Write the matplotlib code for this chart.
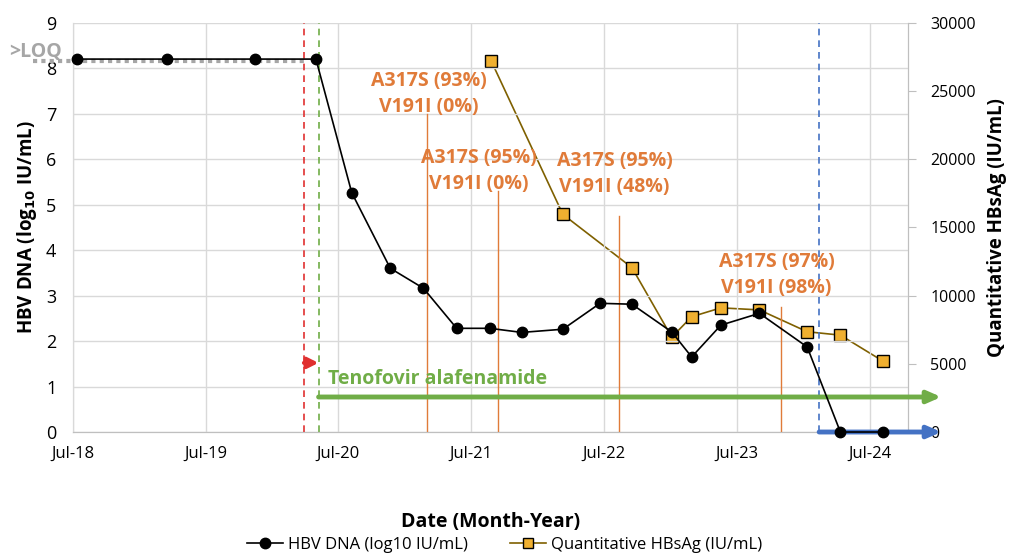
import matplotlib
matplotlib.use("Agg")
import matplotlib.pyplot as plt
from matplotlib.lines import Line2D

plt.rcParams["font.family"] = ["Open Sans", "DejaVu Sans"]

# ---------------------------------------------------------------------------
# data (dates as decimal years)
# ---------------------------------------------------------------------------
dna_dates = [2018.53, 2019.21, 2019.87, 2020.33, 2020.60, 2020.89, 2021.14,
             2021.39, 2021.64, 2021.88, 2022.19, 2022.47, 2022.71, 2023.01,
             2023.16, 2023.38, 2023.67, 2024.03, 2024.28, 2024.60]
dna_values = [8.2, 8.2, 8.2, 8.2, 5.26, 3.6, 3.16,
              2.28, 2.28, 2.19, 2.26, 2.83, 2.81, 2.2,
              1.65, 2.35, 2.61, 1.87, 0.0, 0.0]

hbsag_dates = [2021.65, 2022.19, 2022.71, 2023.01, 2023.16, 2023.38,
               2023.67, 2024.03, 2024.28, 2024.60]
hbsag_values = [27200, 15950, 12050, 6950, 8450, 9100,
                8950, 7350, 7100, 5200]

seq_dates = [2021.17, 2021.70, 2022.61, 2023.83]
seq_tops = [7.0, 5.3, 4.75, 2.75]
seq_labels = ["A317S (93%)\nV191I (0%)", "A317S (95%)\nV191I (0%)",
              "A317S (95%)\nV191I (48%)", "A317S (97%)\nV191I (98%)"]
seq_label_x = [2021.18, 2021.56, 2022.58, 2023.80]
seq_label_y = [7.44, 5.74, 5.67, 3.45]

tick_years = [2018.5, 2019.5, 2020.5, 2021.5, 2022.5, 2023.5, 2024.5]
tick_labels = ["Jul-18", "Jul-19", "Jul-20", "Jul-21", "Jul-22", "Jul-23", "Jul-24"]

loq_value = 8.15
red_line, green_line, blue_line = 2020.24, 2020.35, 2024.12
x_end = 2025.04

orange = "#E07B39"
fig = plt.figure(figsize=(10.09, 5.55), dpi=100)
ax = fig.add_axes([0.0723, 0.2216, 0.8277, 0.7375])
ax2 = ax.twinx()

ax.set_xlim(2018.5, 2024.79)
ax.set_ylim(0, 9)
ax2.set_ylim(0, 30000)

ax.set_xticks(tick_years)
ax.set_xticklabels(tick_labels, fontsize=12)
ax.set_yticks(range(10))
ax.tick_params(axis="y", labelsize=13, length=0, pad=12)
ax.tick_params(axis="x", length=0, pad=10)
ax2.set_yticks(range(0, 30001, 5000))
ax2.tick_params(axis="y", labelsize=11.5, length=6, color="#bfbfbf", pad=10)
ax.grid(True, color="#d9d9d9", lw=1)
ax.set_axisbelow(True)
for a in (ax, ax2):
    a.spines["top"].set_visible(False)
    a.spines["left"].set_color("#d9d9d9")
    a.spines["right"].set_color("#bfbfbf")
    a.spines["bottom"].set_color("#bfbfbf")

# sequencing time points
for xd, top, lab, lx, ly in zip(seq_dates, seq_tops, seq_labels, seq_label_x, seq_label_y):
    ax.plot([xd, xd], [0, top], color=orange, lw=1, zorder=2)
    ax.text(lx, ly, lab, color=orange, fontsize=14, fontweight="bold",
            ha="center", va="center", linespacing=1.4, zorder=3)

# treatment lines
ax.axvline(red_line, color="#E03030", ls=(0, (4, 3)), lw=1.2)
ax.axvline(green_line, color="#70AD47", ls=(0, (4, 3)), lw=1.2)
ax.axvline(blue_line, color="#4472C4", ls=(0, (4, 3)), lw=1.2)
ax.annotate("", xy=(green_line, 1.52), xytext=(red_line, 1.52),
            arrowprops=dict(arrowstyle="-|>,head_length=0.6,head_width=0.3",
                            color="#E03030", lw=3, shrinkA=0, shrinkB=0))
ax.annotate("", xy=(x_end, 0.77), xytext=(green_line, 0.77), annotation_clip=False,
            arrowprops=dict(arrowstyle="-|>,head_length=0.8,head_width=0.35",
                            color="#70AD47", lw=3.5, shrinkA=0, shrinkB=0))
ax.annotate("", xy=(x_end, 0.0), xytext=(blue_line, 0.0), annotation_clip=False,
            arrowprops=dict(arrowstyle="-|>,head_length=0.8,head_width=0.35",
                            color="#4472C4", lw=3.5, shrinkA=0, shrinkB=0))
ax.text(green_line + 0.07, 1.17, "Tenofovir alafenamide", color="#70AD47",
        fontsize=14, fontweight="bold", va="center")

# >LOQ marker
ax.plot([2018.2, red_line], [loq_value, loq_value], color="#a6a6a6",
        ls=(0, (1, 1)), lw=3, clip_on=False, zorder=3)
ax.text(2018.42, 8.35, ">LOQ", color="#a6a6a6", fontsize=14, fontweight="bold",
        ha="right", va="center")

# series
ax.plot(dna_dates, dna_values, color="black", lw=1.2, marker="o", ms=7.5,
        zorder=5, clip_on=False)
ax2.plot(hbsag_dates, hbsag_values, color="#7F6000", lw=1.2, marker="s", ms=8.5,
         mfc="#F0B030", mec="black", mew=1, zorder=5)
ax.set_zorder(ax2.get_zorder() + 1)
ax.patch.set_visible(False)

ax.set_ylabel("HBV DNA (log$_{\\mathbf{10}}$ IU/mL)", fontsize=13.5, fontweight="bold",
              va="center")
ax.yaxis.set_label_coords(-0.055, 0.5)
ax2.set_ylabel("Quantitative HBsAg (IU/mL)", fontsize=13.5, fontweight="bold",
               rotation=90, va="center")
ax2.yaxis.set_label_coords(1.106, 0.5)
ax.set_xlabel("Date (Month-Year)", fontsize=14, fontweight="bold", labelpad=36)

handles = [Line2D([], [], color="black", marker="o", ms=7.5, lw=1.2),
           Line2D([], [], color="#7F6000", marker="s", ms=7.5, mfc="#F0B030",
                  mec="black", lw=1.2)]
fig.legend(handles, ["HBV DNA (log10 IU/mL)", "Quantitative HBsAg (IU/mL)"],
           loc="center", bbox_to_anchor=(0.5, 0.018), ncol=2, frameon=False,
           fontsize=12, handlelength=2.2, columnspacing=2.5, handletextpad=0.3)

fig.savefig("out.png", dpi=100)
